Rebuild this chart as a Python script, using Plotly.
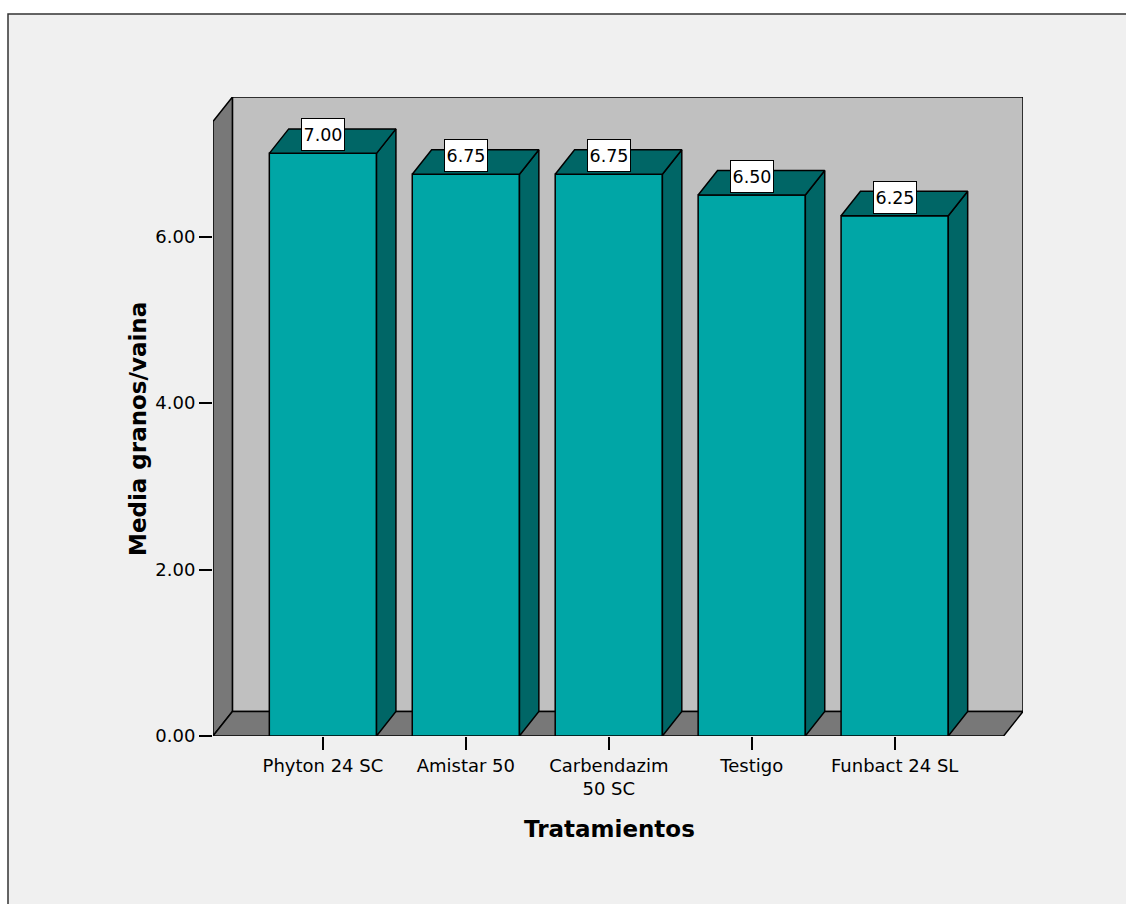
import plotly.graph_objects as go

# ---- data ----
categories = ["Phyton 24 SC", "Amistar 50", "Carbendazim<br>50 SC", "Testigo", "Funbact 24 SL"]
values = [7.00, 6.75, 6.75, 6.50, 6.25]
y_ticks = [0, 2, 4, 6]
x_title = "Tratamientos"
y_title = "Media granos/vaina"

# ---- styling / geometry constants ----
FRONT = "#00A6A6"
DARK = "#006666"
BACK = "#C0C0C0"
WALL = "#787878"
BG = "#F0F0F0"
FONT = "DejaVu Sans"

bar_w = 0.75
dx, dy = 0.1357, 0.294          # depth offset in data units
x_min, x_front_max = -0.769, 4.762
y_max = 7.677
x_max = x_front_max + dx

W, H = 1126, 904
ML, MR, MT, MB = 213, 103, 97, 168
PW, PH = W - ML - MR, H - MT - MB


def px_x(p):
    return (p - ML) / PW


def px_y(p):
    return (H - MB - p) / PH


xs = list(range(len(categories)))

fig = go.Figure()

# front faces of bars
fig.add_trace(go.Bar(
    x=xs, y=values, width=bar_w,
    marker=dict(color=FRONT, line=dict(color="black", width=1.5)),
    hoverinfo="skip", showlegend=False,
))

# top and side faces, computed from the values
top_x, top_y, side_x, side_y = [], [], [], []
for c, v in zip(xs, values):
    l, r = c - bar_w / 2, c + bar_w / 2
    top_x += [l, r, r + dx, l + dx, l, None]
    top_y += [v, v, v + dy, v + dy, v, None]
    side_x += [r, r + dx, r + dx, r, r, None]
    side_y += [0, dy, v + dy, v, 0, None]

for fx, fy in ((side_x, side_y), (top_x, top_y)):
    fig.add_trace(go.Scatter(
        x=fx, y=fy, mode="lines", fill="toself", fillcolor=DARK,
        line=dict(color="black", width=1.5), hoverinfo="skip", showlegend=False,
    ))

shapes = []
# outer frame
shapes.append(dict(type="rect", xref="paper", yref="paper",
                   x0=px_x(8), x1=px_x(W + 20), y0=px_y(H + 20), y1=px_y(14),
                   fillcolor=BG, line=dict(color="#333", width=1.5), layer="below"))
# back wall
shapes.append(dict(type="rect", xref="x", yref="y", x0=x_min + dx, x1=x_max,
                   y0=dy, y1=y_max, fillcolor=BACK,
                   line=dict(color="black", width=1.5), layer="below"))
# left wall
shapes.append(dict(type="path", xref="x", yref="y",
                   path=f"M{x_min},0 L{x_min+dx},{dy} L{x_min+dx},{y_max} L{x_min},{y_max-dy} Z",
                   fillcolor=WALL, line=dict(color="black", width=1.5), layer="below"))
# floor
shapes.append(dict(type="path", xref="x", yref="y",
                   path=f"M{x_min},0 L{x_front_max},0 L{x_max},{dy} L{x_min+dx},{dy} Z",
                   fillcolor=WALL, line=dict(color="black", width=1.5), layer="below"))

annotations = []
for c, v in zip(xs, values):
    annotations.append(dict(
        x=c, y=v, xref="x", yref="y", text=f"{v:.2f}", showarrow=False,
        yanchor="bottom", yshift=2, width=40, height=29, borderpad=1,
        bgcolor="white", bordercolor="black", borderwidth=1,
        font=dict(family=FONT, size=17.5, color="black"),
    ))
annotations.append(dict(
    x=px_x(609), y=px_y(829), xref="paper", yref="paper", text=f"<b>{x_title}</b>",
    showarrow=False, xanchor="center", yanchor="middle",
    font=dict(family=FONT, size=23, color="black"),
))
annotations.append(dict(
    x=px_x(138), y=px_y(429), xref="paper", yref="paper", text=f"<b>{y_title}</b>",
    showarrow=False, xanchor="center", yanchor="middle", textangle=-90,
    font=dict(family=FONT, size=23, color="black"),
))

fig.update_layout(
    width=W, height=H, autosize=False,
    margin=dict(l=ML, r=MR, t=MT, b=MB, pad=0),
    paper_bgcolor="white", plot_bgcolor="rgba(0,0,0,0)",
    shapes=shapes, annotations=annotations, showlegend=False,
    font=dict(family=FONT, color="black"),
)
fig.update_xaxes(
    range=[x_min, x_max], tickvals=xs, ticktext=categories,
    showgrid=False, zeroline=False, showline=False,
    ticks="outside", ticklen=13, tickwidth=1.5, tickcolor="black",
    tickfont=dict(family=FONT, size=18, color="black"),
)
fig.update_yaxes(
    range=[0, y_max], tickvals=y_ticks, ticktext=[f"{t:.2f}" for t in y_ticks],
    showgrid=False, zeroline=False, showline=False,
    ticks="outside", ticklen=13, tickwidth=1.5, tickcolor="black",
    tickfont=dict(family=FONT, size=18, color="black"),
)

fig.write_html("out.html")
